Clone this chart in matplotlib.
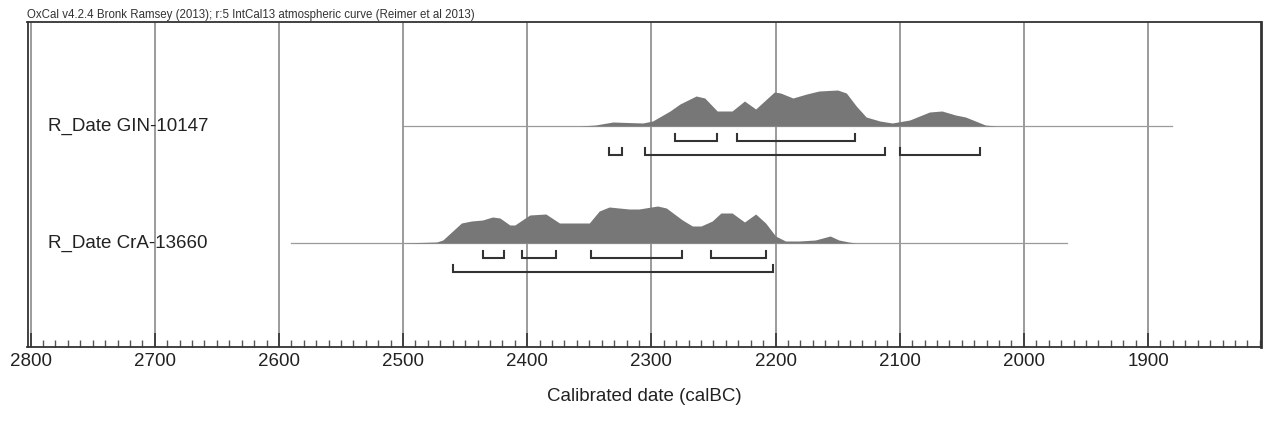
import matplotlib.pyplot as plt
from matplotlib.ticker import MultipleLocator

plt.rcParams["font.family"] = ["Liberation Sans", "DejaVu Sans"]

# calibrated probability profiles (year calBC, relative height)
gin_years = [2500, 2358, 2345, 2331, 2307, 2299, 2285, 2277, 2264, 2257, 2247, 2235, 2225,
             2216, 2201, 2196, 2186, 2175, 2165, 2150, 2143, 2135, 2127, 2116, 2106, 2092,
             2076, 2066, 2055, 2047, 2031, 2022, 1881]
gin_heights = [0, 0, 1, 4, 3, 5, 15, 22, 30, 28, 15, 15, 25,
               17, 34, 33, 28, 32, 35, 36, 33, 20, 9, 5, 3, 6,
               14, 15, 11, 9, 1, 0, 0]

cra_years = [2590, 2503, 2473, 2468, 2453, 2445, 2436, 2428, 2422, 2414, 2410, 2398, 2385,
             2374, 2364, 2350, 2342, 2334, 2318, 2310, 2295, 2288, 2275, 2267, 2260, 2251,
             2244, 2235, 2225, 2216, 2208, 2200, 2192, 2181, 2168, 2156, 2149, 2141, 2135, 1965]
cra_heights = [0, 0, 1, 3, 20, 22, 23, 26, 25, 18, 18, 28, 29,
               20, 20, 20, 32, 36, 34, 34, 37, 35, 23, 17, 17, 22,
               30, 30, 21, 29, 20, 7, 2, 2, 3, 7, 3, 1, 0, 0]

# 68.2% and 95.4% ranges (from, to)
gin_ranges_68 = [(2281, 2247), (2231, 2136)]
gin_ranges_95 = [(2334, 2324), (2305, 2112), (2100, 2035)]
cra_ranges_68 = [(2436, 2419), (2404, 2377), (2349, 2275), (2252, 2208)]
cra_ranges_95 = [(2460, 2202)]

labels = ["R_Date GIN-10147", "R_Date CrA-13660"]
header = "OxCal v4.2.4 Bronk Ramsey (2013); r:5 IntCal13 atmospheric curve (Reimer et al 2013)"

fig = plt.figure(figsize=(12.66, 4.30), dpi=100)
ax = fig.add_axes([27.5 / 1266, 1 - 347 / 430, (1261 - 27.5) / 1266, (347 - 22) / 430])
ax.set_xlim(2802.5, 1809)
ax.set_ylim(0, 325)

for x in range(2800, 1899, -100):
    ax.axvline(x, color="#808080", lw=1.1, zorder=1)

rows = [
    (gin_years, gin_heights, gin_ranges_68, gin_ranges_95, 221, labels[0]),
    (cra_years, cra_heights, cra_ranges_68, cra_ranges_95, 104, labels[1]),
]

for years, heights, r68, r95, base, label in rows:
    ax.plot([years[0], years[-1]], [base, base], color="#9a9a9a", lw=0.9, zorder=2)
    ax.fill_between(years, base, [base + h for h in heights], color="#777777",
                    lw=0, zorder=3)
    for k, ranges in enumerate([r68, r95]):
        yb = base - 14.5 - 14.5 * k
        for a, b in ranges:
            ax.plot([a, a, b, b], [yb + 7, yb, yb, yb + 7], color="#333333", lw=1.5,
                    solid_joinstyle="miter", zorder=4)
    ax.text(2786, base, label, fontsize=13.5, ha="left", va="center", color="#222222")

ax.set_yticks([])
ax.xaxis.set_major_locator(MultipleLocator(100))
ax.xaxis.set_minor_locator(MultipleLocator(10))
ax.tick_params(axis="x", which="major", direction="in", length=10, width=1.2,
               color="#333333", labelsize=13.5, pad=4, labelcolor="#222222")
ax.tick_params(axis="x", which="minor", direction="in", length=5, width=1,
               color="#555555")
ax.set_xticks(range(2800, 1899, -100))
for s in ax.spines.values():
    s.set_color("#333333")
    s.set_linewidth(1.3)
ax.spines["right"].set_linewidth(2)

ax.set_xlabel("Calibrated date (calBC)", fontsize=13.5, labelpad=13, color="#222222")
fig.text(27 / 1266, 1 - 18 / 430, header, fontsize=8.3, ha="left", va="baseline",
         color="#333333")

fig.savefig("out.png", dpi=100)
